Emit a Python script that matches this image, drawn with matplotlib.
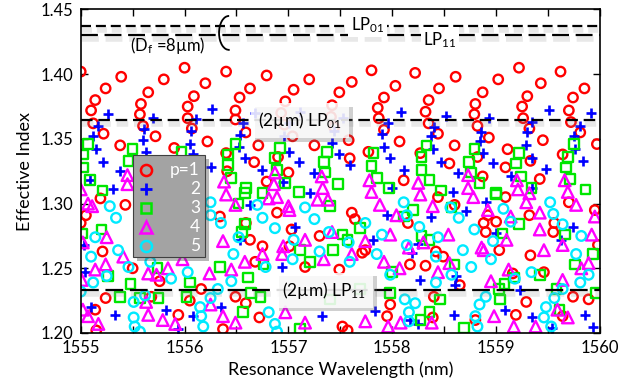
import numpy as np
import matplotlib
matplotlib.use("Agg")
import matplotlib.pyplot as plt
import matplotlib.patheffects as pe
from matplotlib.patches import Arc, Rectangle
from matplotlib.ticker import FormatStrFormatter

plt.rcParams['font.family'] = ['Lato', 'DejaVu Sans']
plt.rcParams['mathtext.default'] = 'regular'

# ---- data: resonance wavelength (nm) vs effective index ----
red_wl = [1555.00, 1555.39, 1555.24, 1555.14, 1555.10, 1555.12, 1555.22, 1555.38,
          1556.00, 1555.80, 1555.65, 1555.58, 1555.57, 1555.60, 1555.72, 1555.90,
          1556.40, 1556.20, 1556.09, 1556.03, 1556.03, 1556.07, 1556.22, 1556.40, 1556.67,
          1556.79, 1556.63, 1556.53, 1556.49, 1556.49, 1556.59, 1556.71, 1556.90,
          1557.20, 1557.05, 1556.97, 1556.93, 1556.96, 1557.04, 1557.25, 1557.59,
          1557.80, 1557.61, 1557.49, 1557.42, 1557.41, 1557.44, 1557.58, 1557.77,
          1558.22, 1558.03, 1557.92, 1557.86, 1557.87, 1557.92, 1558.07, 1558.27, 1558.55,
          1558.61, 1558.45, 1558.35, 1558.32, 1558.35, 1558.44, 1558.60, 1558.82, 1559.09, 1559.42,
          1559.22, 1559.02, 1558.87, 1558.80, 1558.79, 1558.82, 1558.93, 1559.11, 1559.33,
          1559.62, 1559.43, 1559.30, 1559.25, 1559.26, 1559.32, 1559.45, 1559.64,
          1559.85, 1559.74, 1559.70, 1559.72, 1559.81, 1559.97,
          1556.79, 1557.00, 1558.11, 1558.87, 1556.41,
          1555.19, 1555.05, 1555.00, 1555.21, 1555.50, 1555.24, 1555.14, 1555.94, 1556.16, 1556.05, 1556.49, 1556.34,
          1558.44, 1558.42, 1558.49, 1558.40, 1558.39, 1558.92, 1558.88, 1558.90, 1559.03, 1559.29, 1559.19, 1558.80, 1559.09,
          1559.56, 1559.55, 1559.46, 1559.74, 1559.64, 1559.89, 1559.70,
          1557.61, 1557.64, 1558.15, 1557.01, 1557.16, 1557.49, 1557.74, 1556.72, 1557.52, 1557.95, 1557.98, 1556.89, 1557.03,
          1555.43, 1555.76, 1556.63, 1556.68, 1557.30, 1558.17, 1558.65, 1559.33, 1559.98, 1559.95, 1558.60,
          1555.15, 1556.37, 1557.57,
          1556.75, 1557.71, 1558.32, 1559.16, 1559.00, 1559.32, 1556.59, 1555.68, 1556.59]
red_n = [1.402, 1.398, 1.389, 1.380, 1.372, 1.362, 1.354, 1.345,
         1.405, 1.396, 1.386, 1.377, 1.369, 1.360, 1.352, 1.343,
         1.402, 1.393, 1.383, 1.375, 1.366, 1.358, 1.348, 1.339, 1.332,
         1.399, 1.389, 1.382, 1.372, 1.365, 1.355, 1.345, 1.336,
         1.396, 1.388, 1.379, 1.370, 1.361, 1.352, 1.345, 1.335,
         1.403, 1.394, 1.386, 1.376, 1.367, 1.359, 1.349, 1.340,
         1.401, 1.391, 1.382, 1.374, 1.366, 1.357, 1.348, 1.339, 1.331,
         1.398, 1.389, 1.380, 1.371, 1.362, 1.354, 1.345, 1.336, 1.328, 1.319,
         1.405, 1.396, 1.386, 1.377, 1.369, 1.360, 1.351, 1.342, 1.333,
         1.402, 1.393, 1.383, 1.375, 1.366, 1.358, 1.349, 1.338,
         1.389, 1.382, 1.372, 1.363, 1.355, 1.346,
         1.317, 1.324, 1.318, 1.321, 1.325,
         1.304, 1.291, 1.285, 1.263, 1.250, 1.227, 1.218, 1.214, 1.234, 1.225, 1.228, 1.290,
         1.305, 1.263, 1.259, 1.228, 1.212, 1.291, 1.285, 1.278, 1.264, 1.224, 1.214, 1.210, 1.305,
         1.285, 1.278, 1.247, 1.228, 1.213, 1.226, 1.301,
         1.293, 1.288, 1.285, 1.267, 1.251, 1.249, 1.264, 1.212, 1.205, 1.213, 1.222, 1.293, 1.280,
         1.299, 1.240, 1.272, 1.255, 1.275, 1.253, 1.237, 1.260, 1.268, 1.295, 1.299,
         1.202, 1.203, 1.202,
         1.267, 1.262, 1.252, 1.246, 1.286, 1.291, 1.285, 1.228, 1.223]

blue_wl = [1555.26, 1555.17, 1555.12, 1555.15, 1555.21, 1555.38, 1555.09, 1555.31,
           1555.70, 1555.61, 1555.60, 1555.63,
           1556.26, 1556.11, 1556.06, 1556.05, 1556.08, 1556.25,
           1556.56, 1556.53, 1556.58, 1556.68, 1556.52,
           1557.11, 1557.01, 1556.96, 1557.01, 1557.10, 1556.95, 1556.75,
           1557.53, 1557.44, 1557.42, 1557.49, 1557.59, 1557.25,
           1558.08, 1557.96, 1557.90, 1557.92, 1557.98, 1558.11, 1558.00,
           1558.52, 1558.40, 1558.37, 1558.39, 1558.47, 1558.63, 1558.58,
           1558.93, 1558.85, 1558.84, 1558.87, 1558.97, 1559.14,
           1559.51, 1559.35, 1559.30, 1559.29, 1559.35, 1559.48, 1559.35,
           1559.91, 1559.81, 1559.75, 1559.76, 1559.84,
           1555.04, 1555.10, 1555.33, 1555.82, 1556.08, 1556.35, 1556.94, 1557.06, 1557.21, 1557.95,
           1557.32, 1557.83, 1558.71, 1558.90, 1558.59, 1559.09, 1559.35, 1559.86, 1559.93,
           1555.03, 1556.53, 1557.81, 1558.27, 1558.60, 1559.23, 1559.62, 1556.63, 1555.94, 1558.17,
           1558.19, 1558.25, 1558.25, 1559.00, 1559.74, 1559.54, 1558.37, 1558.61]
blue_n = [1.369, 1.360, 1.352, 1.342, 1.332, 1.325, 1.318, 1.311,
          1.366, 1.358, 1.349, 1.340,
          1.373, 1.365, 1.356, 1.346, 1.338, 1.328,
          1.362, 1.353, 1.335, 1.370, 1.344,
          1.371, 1.362, 1.352, 1.340, 1.332, 1.317, 1.326,
          1.366, 1.356, 1.347, 1.338, 1.330, 1.324,
          1.371, 1.362, 1.354, 1.344, 1.335, 1.326, 1.312,
          1.368, 1.359, 1.352, 1.342, 1.332, 1.324, 1.309,
          1.366, 1.355, 1.348, 1.339, 1.331, 1.321,
          1.372, 1.363, 1.355, 1.345, 1.335, 1.327, 1.312,
          1.370, 1.360, 1.352, 1.342, 1.333,
          1.247, 1.220, 1.214, 1.218, 1.213, 1.220, 1.251, 1.282, 1.308, 1.291,
          1.213, 1.217, 1.294, 1.301, 1.214, 1.218, 1.212, 1.214, 1.205,
          1.268, 1.272, 1.272, 1.241, 1.237, 1.233, 1.272, 1.299, 1.203, 1.210,
          1.262, 1.269, 1.207, 1.277, 1.282, 1.204, 1.290, 1.244]

green_wl = [1555.07, 1555.02, 1555.02, 1555.09, 1555.21,
            1555.50, 1555.46, 1555.97,
            1556.49, 1556.42, 1556.42, 1556.45, 1556.59,
            1556.92, 1556.87, 1556.89, 1556.97, 1557.10,
            1557.37, 1557.34, 1557.35, 1557.48,
            1557.82, 1557.80, 1557.85, 1557.97,
            1558.33, 1558.28, 1558.28, 1558.36, 1558.47,
            1558.79, 1558.74, 1558.76, 1558.84, 1559.00,
            1559.22, 1559.19, 1559.24, 1559.34,
            1559.75, 1559.69, 1559.67, 1559.71, 1559.86,
            1555.20, 1555.26, 1555.38, 1555.75, 1556.02, 1556.56, 1556.61, 1556.55, 1557.40, 1556.73,
            1559.22, 1559.17, 1558.69, 1559.93, 1559.96,
            1557.57, 1558.00, 1558.36, 1558.60, 1559.42, 1559.76, 1557.11,
            1555.48, 1556.34, 1557.11, 1557.69, 1559.04, 1559.61,
            1557.69, 1558.57, 1556.58, 1556.05, 1559.66, 1557.40, 1558.46, 1558.27, 1559.08,
            1556.75, 1558.11, 1558.28, 1557.52, 1557.43, 1557.21, 1556.76, 1558.20, 1557.98, 1559.06,
            1559.00, 1559.03, 1559.58, 1558.36, 1555.01, 1555.74, 1556.52, 1556.58, 1555.57, 1556.64]
green_n = [1.346, 1.338, 1.328, 1.318, 1.310,
           1.342, 1.333, 1.340,
           1.346, 1.338, 1.330, 1.320, 1.312,
           1.343, 1.335, 1.326, 1.316, 1.309,
           1.340, 1.332, 1.324, 1.315,
           1.339, 1.329, 1.320, 1.312,
           1.345, 1.336, 1.326, 1.318, 1.310,
           1.342, 1.332, 1.324, 1.316, 1.308,
           1.339, 1.331, 1.321, 1.312,
           1.346, 1.336, 1.328, 1.319, 1.311,
           1.280, 1.244, 1.228, 1.227, 1.228, 1.216, 1.243, 1.278, 1.298, 1.228,
           1.284, 1.243, 1.204, 1.261, 1.231,
           1.272, 1.247, 1.272, 1.253, 1.245, 1.253, 1.203,
           1.238, 1.251, 1.264, 1.234, 1.226, 1.218,
           1.281, 1.297, 1.284, 1.239, 1.276, 1.226, 1.226, 1.210, 1.238,
           1.308, 1.290, 1.275, 1.276, 1.264, 1.255, 1.253, 1.295, 1.231, 1.277,
           1.307, 1.234, 1.234, 1.216, 1.277, 1.250, 1.300, 1.308, 1.227, 1.231]

magenta_wl = [1555.45, 1555.45, 1555.00, 1555.11, 1555.25,
              1556.38, 1556.40, 1556.49,
              1556.87, 1556.86, 1556.89, 1557.00,
              1557.32, 1557.33, 1557.38,
              1557.78, 1557.80, 1557.88, 1558.04,
              1558.25, 1558.27, 1558.39,
              1558.73, 1558.73, 1558.78, 1558.92,
              1559.20, 1559.21, 1559.29, 1559.42,
              1559.66, 1559.69, 1559.77, 1559.95,
              1557.42, 1557.74, 1557.98, 1558.30, 1558.54, 1558.86, 1559.10, 1559.42, 1559.64, 1559.92,
              1555.02, 1555.41, 1555.24, 1555.14, 1555.73, 1555.84, 1556.37, 1556.58, 1556.45,
              1555.02, 1555.07, 1555.17, 1555.63, 1555.65, 1555.79, 1555.91, 1556.25, 1556.37, 1556.49,
              1557.01, 1557.28, 1557.16, 1556.75, 1557.34, 1557.92, 1558.07,
              1556.97, 1557.16, 1557.74,
              1558.55, 1558.44, 1558.88, 1559.12, 1558.95, 1559.46, 1559.89, 1559.59, 1558.98, 1559.17, 1559.69, 1558.38,
              1556.81, 1556.95, 1556.94, 1557.61, 1558.16, 1557.96, 1558.08, 1559.14, 1559.32,
              1559.64, 1559.82, 1559.38, 1555.07, 1555.01, 1555.65, 1555.98, 1556.24]
magenta_n = [1.322, 1.315, 1.311, 1.298, 1.274,
             1.317, 1.307, 1.299,
             1.324, 1.315, 1.305, 1.298,
             1.321, 1.312, 1.303,
             1.318, 1.309, 1.299, 1.291,
             1.316, 1.307, 1.298,
             1.322, 1.312, 1.305, 1.295,
             1.318, 1.311, 1.301, 1.293,
             1.318, 1.309, 1.299, 1.290,
             1.278, 1.271, 1.276, 1.270, 1.276, 1.266, 1.272, 1.280, 1.268, 1.276,
             1.270, 1.259, 1.253, 1.249, 1.245, 1.250, 1.271, 1.255, 1.249,
             1.218, 1.213, 1.207, 1.224, 1.214, 1.210, 1.207, 1.222, 1.213, 1.208,
             1.295, 1.303, 1.272, 1.261, 1.257, 1.255, 1.250,
             1.216, 1.208, 1.209,
             1.254, 1.247, 1.264, 1.249, 1.240, 1.264, 1.254, 1.218, 1.213, 1.205, 1.212, 1.208,
             1.304, 1.267, 1.261, 1.261, 1.266, 1.205, 1.208, 1.290, 1.308,
             1.241, 1.250, 1.205, 1.300, 1.241, 1.246, 1.257, 1.246]

cyan_wl = [1555.28, 1555.34, 1555.14, 1555.10, 1555.36, 1555.12, 1555.00, 1555.25, 1555.46, 1555.67, 1555.87, 1556.03,
           1555.51, 1555.51, 1555.52, 1555.62, 1556.15, 1556.16, 1556.18, 1556.25, 1556.32,
           1556.25, 1556.25, 1556.35, 1556.52, 1556.47, 1556.45,
           1556.70, 1556.75, 1556.87, 1557.05, 1557.16, 1557.25, 1557.39, 1557.58, 1557.30, 1557.04, 1556.78, 1557.59,
           1557.74, 1557.90, 1557.85, 1558.11, 1558.14, 1558.26, 1558.14,
           1556.81, 1556.87, 1558.12, 1558.16, 1558.16,
           1558.64, 1558.56, 1558.79, 1558.97, 1559.07, 1559.14, 1559.52, 1559.55, 1559.64, 1559.82,
           1558.44, 1558.42, 1558.68, 1558.95, 1558.76, 1558.57, 1558.42, 1559.34, 1559.18,
           1558.90, 1558.84, 1558.80, 1558.82, 1559.64, 1559.56, 1559.48, 1559.46, 1559.53,
           1559.77, 1559.89, 1559.81, 1555.57, 1556.89, 1557.98, 1558.22]
cyan_n = [1.298, 1.289, 1.274, 1.259, 1.264, 1.239, 1.232, 1.244, 1.251, 1.255, 1.242, 1.247,
          1.224, 1.212, 1.205, 1.229, 1.220, 1.213, 1.205, 1.227, 1.234,
          1.291, 1.301, 1.285, 1.274, 1.261, 1.240,
          1.299, 1.289, 1.281, 1.272, 1.297, 1.288, 1.278, 1.270, 1.263, 1.257, 1.251, 1.255,
          1.285, 1.276, 1.261, 1.301, 1.291, 1.282, 1.268,
          1.216, 1.207, 1.226, 1.216, 1.209,
          1.289, 1.297, 1.280, 1.271, 1.296, 1.286, 1.301, 1.292, 1.284, 1.275,
          1.274, 1.259, 1.264, 1.257, 1.251, 1.245, 1.239, 1.247, 1.242,
          1.228, 1.222, 1.213, 1.205, 1.234, 1.227, 1.220, 1.212, 1.205,
          1.261, 1.245, 1.239, 1.201, 1.201, 1.245, 1.223]

# mode effective indices (horizontal reference lines)
lp01_8um = 1.4373
lp11_8um = 1.4303
lp01_2um = 1.3647
lp11_2um = 1.2336

legend_labels = ["p=1", "2", "3", "4", "5"]

# ---- figure ----
fig = plt.figure(figsize=(6.36, 3.89), dpi=100)
ax = fig.add_axes([0.1269, 0.1440, 0.8165, 0.8316])

ax.scatter(red_wl, red_n, s=46, marker='o', facecolors='none', edgecolors='#ff0000', linewidths=1.7, zorder=2)
ax.scatter(blue_wl, blue_n, s=60, marker='+', color='#0000ff', linewidths=1.9, zorder=2)
ax.scatter(green_wl, green_n, s=48, marker='s', facecolors='none', edgecolors='#00e600', linewidths=1.7, zorder=2)
ax.scatter(magenta_wl, magenta_n, s=70, marker='^', facecolors='none', edgecolors='#ff00ff', linewidths=1.7, zorder=2)
ax.scatter(cyan_wl, cyan_n, s=48, marker='o', facecolors='none', edgecolors='#00eaff', linewidths=1.7, zorder=2)

shadow = [pe.SimpleLineShadow(offset=(1, -3), shadow_color='0.6', alpha=0.22, linewidth=4), pe.Normal()]
ax.axhline(lp01_8um, color='k', lw=1.6, dashes=(4.5, 2.2), path_effects=shadow, zorder=4)
ax.axhline(lp11_8um, color='k', lw=1.6, dashes=(7.6, 3.0), path_effects=shadow, zorder=4)
ax.axhline(lp01_2um, color='k', lw=1.6, dashes=(5.2, 2.6), path_effects=shadow, zorder=4)
ax.axhline(lp11_2um, color='k', lw=1.6, dashes=(8.0, 3.0), path_effects=shadow, zorder=4)

# bracket grouping the two 8 um fibre modes
ax.add_patch(Arc((1556.427, 1.4319), width=0.19, height=0.0262, theta1=80, theta2=300,
                 color='k', lw=1.3, zorder=6))

ax.text(1555.47, 1.4218, '(D$_f$ =8µm)', fontsize=12, ha='left', va='center', zorder=6)
ax.text(1557.60, 1.4342, 'LP$_{01}$', fontsize=12, ha='left', va='baseline', zorder=6,
        bbox=dict(boxstyle='square,pad=0.15', fc='white', ec='none'))
ax.text(1558.30, 1.4226, 'LP$_{11}$', fontsize=12, ha='left', va='baseline', zorder=6,
        bbox=dict(boxstyle='square,pad=0.15', fc='white', ec='none'))

box_kw = dict(boxstyle='square,pad=0.4', fc='white', ec='none', alpha=0.85)
t1 = ax.text(1556.71, 1.3640, '(2µm) LP$_{01}$', fontsize=12.5, ha='left', va='center', zorder=7, bbox=box_kw)
t2 = ax.text(1556.94, 1.2330, '(2µm) LP$_{11}$', fontsize=12.5, ha='left', va='center', zorder=7, bbox=box_kw)
for t in (t1, t2):
    t.get_bbox_patch().set_path_effects([pe.withSimplePatchShadow(offset=(2.5, -2.5), shadow_rgbFace='0.4', alpha=0.3)])

# legend drawn as a grey box with right aligned white labels
leg = Rectangle((0.1007, 0.2349), 0.1387, 0.3153, transform=ax.transAxes,
                fc='#a3a3a3', ec='0.25', lw=0.8, zorder=8)
leg.set_path_effects([pe.withSimplePatchShadow(offset=(3, -3), shadow_rgbFace='0.3', alpha=0.4)])
ax.add_patch(leg)
leg_y = [0.5039, 0.4436, 0.3864, 0.3277, 0.2689]
leg_style = [dict(marker='o', mfc='none', mec='#ff0000', ms=8, mew=1.8),
             dict(marker='+', color='#0000ff', ms=9, mew=2.0),
             dict(marker='s', mfc='none', mec='#00e600', ms=7, mew=1.8),
             dict(marker='^', mfc='none', mec='#ff00ff', ms=9, mew=1.8),
             dict(marker='o', mfc='none', mec='#00eaff', ms=8, mew=1.8)]
for yy, lab, st in zip(leg_y, legend_labels, leg_style):
    ax.plot([0.1257], [yy], linestyle='none', transform=ax.transAxes, zorder=9, clip_on=False, **st)
    ax.text(0.2297, yy, lab, transform=ax.transAxes, ha='right', va='center',
            color='white', fontsize=12.5, zorder=9)

ax.set_xlim(1555, 1560)
ax.set_ylim(1.20, 1.45)
ax.set_xticks(np.arange(1555, 1560.5, 1))
ax.set_xticks(np.arange(1555.5, 1560, 1), minor=True)
ax.set_yticks(np.arange(1.20, 1.4501, 0.05))
ax.yaxis.set_major_formatter(FormatStrFormatter('%.2f'))
ax.tick_params(which='both', direction='in', top=True, right=True, length=5, width=1.0,
               labelsize=12, pad=5)
for sp in ax.spines.values():
    sp.set_linewidth(1.2)

ax.set_xlabel('Resonance Wavelength (nm)', fontsize=13, labelpad=4)
ax.set_ylabel('Effective Index', fontsize=13, labelpad=6)

fig.savefig('out.png', dpi=100)
